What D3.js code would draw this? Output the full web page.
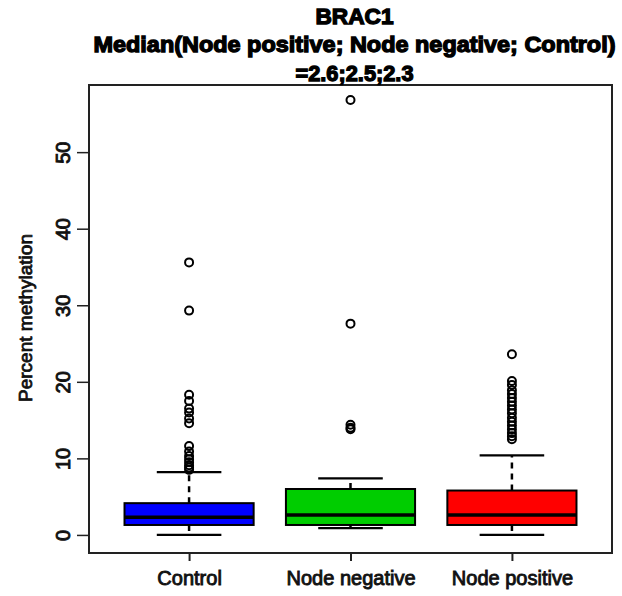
<!DOCTYPE html>
<html>
<head>
<meta charset="utf-8">
<script src="https://cdn.jsdelivr.net/npm/d3@7"></script>
<style>
  body { margin: 0; background: #fff; }
  svg { font-family: "Liberation Sans", Arial, sans-serif; }
</style>
</head>
<body>
<div class="graph"></div>
<script>
const width = 622;
const height = 596;

// chart data
const groups = ["Control", "Node negative", "Node positive"];
const lowerWhisker = [0.0, 0.9, 0.0];
const q1 = [1.3, 1.3, 1.3];
const medians = [2.3, 2.6, 2.6];
const q3 = [4.15, 6.0, 5.8];
const upperWhisker = [8.2, 7.4, 10.4];
const outliersControl = [35.6, 29.3, 18.3, 17.5, 16.5, 16.0, 15.2, 14.6, 11.6, 10.9, 10.3, 9.9, 9.5, 9.1, 8.8, 8.5];
const outliersNegative = [56.8, 27.6, 14.4, 14.0, 13.8];
const outliersPositive = [23.6, 20.1, 19.6, 18.9, 18.4, 17.9, 17.4, 16.9, 16.4, 15.9, 15.3, 14.8, 14.3, 13.8, 13.3, 12.9, 12.5];
const yTicks = [0, 10, 20, 30, 40, 50];
const titleLines = ["BRAC1", "Median(Node positive; Node negative; Control)", "=2.6;2.5;2.3"];
const yLabel = "Percent methylation";

const boxColors = ["#0000ff", "#00cd00", "#ff0000"];

const plot = { left: 89, right: 612, top: 85, bottom: 553 };

const boxes = groups.map((g, i) => ({
  name: g,
  pos: i + 1,
  lo: lowerWhisker[i],
  q1: q1[i],
  med: medians[i],
  q3: q3[i],
  hi: upperWhisker[i],
  out: [outliersControl, outliersNegative, outliersPositive][i],
  color: boxColors[i],
}));

const xScale = d3.scaleLinear().domain([0.38, 3.62]).range([plot.left, plot.right]);
const yScale = d3.scaleLinear().domain([-2.36, 58.77]).range([plot.bottom, plot.top]);

const svg = d3
  .select(".graph")
  .append("svg")
  .attr("width", width)
  .attr("height", height);

const halfBox = xScale(1.4) - xScale(1);
const halfCap = xScale(1.2) - xScale(1);

const g = svg
  .selectAll(".box")
  .data(boxes)
  .enter()
  .append("g")
  .attr("class", "box");

// dashed whiskers
g.append("line")
  .attr("x1", (d) => xScale(d.pos))
  .attr("x2", (d) => xScale(d.pos))
  .attr("y1", (d) => yScale(d.q3))
  .attr("y2", (d) => yScale(d.hi))
  .attr("stroke", "#000")
  .attr("stroke-width", 2.5)
  .attr("stroke-dasharray", "6,5");
g.append("line")
  .attr("x1", (d) => xScale(d.pos))
  .attr("x2", (d) => xScale(d.pos))
  .attr("y1", (d) => yScale(d.q1))
  .attr("y2", (d) => yScale(d.lo))
  .attr("stroke", "#000")
  .attr("stroke-width", 2.5)
  .attr("stroke-dasharray", "6,5");

// caps
["hi", "lo"].forEach((k) => {
  g.append("line")
    .attr("x1", (d) => xScale(d.pos) - halfCap)
    .attr("x2", (d) => xScale(d.pos) + halfCap)
    .attr("y1", (d) => yScale(d[k]))
    .attr("y2", (d) => yScale(d[k]))
    .attr("stroke", "#000")
    .attr("stroke-width", 2.2);
});

// boxes
g.append("rect")
  .attr("x", (d) => xScale(d.pos) - halfBox)
  .attr("width", halfBox * 2)
  .attr("y", (d) => yScale(d.q3))
  .attr("height", (d) => yScale(d.q1) - yScale(d.q3))
  .attr("fill", (d) => d.color)
  .attr("stroke", "#000")
  .attr("stroke-width", 2);

// median
g.append("line")
  .attr("x1", (d) => xScale(d.pos) - halfBox)
  .attr("x2", (d) => xScale(d.pos) + halfBox)
  .attr("y1", (d) => yScale(d.med))
  .attr("y2", (d) => yScale(d.med))
  .attr("stroke", "#000")
  .attr("stroke-width", 3.5);

// outliers
g.selectAll("circle")
  .data((d) => d.out.map((v) => ({ pos: d.pos, v: v })))
  .enter()
  .append("circle")
  .attr("cx", (d) => xScale(d.pos))
  .attr("cy", (d) => yScale(d.v))
  .attr("r", 4)
  .attr("fill", "none")
  .attr("stroke", "#000")
  .attr("stroke-width", 2);

// frame
svg
  .append("rect")
  .attr("x", plot.left)
  .attr("y", plot.top)
  .attr("width", plot.right - plot.left)
  .attr("height", plot.bottom - plot.top)
  .attr("fill", "none")
  .attr("stroke", "#222")
  .attr("stroke-width", 2);

// y axis
const yAxis = d3.axisLeft(yScale).tickValues(yTicks).tickSize(12).tickSizeOuter(0);
const yg = svg
  .append("g")
  .attr("transform", "translate(" + plot.left + ",0)")
  .call(yAxis);
yg.select(".domain")
  .attr("d", "M0," + yScale(0) + "V" + yScale(50))
  .attr("stroke", "#222")
  .attr("stroke-width", 2);
yg.selectAll(".tick line").attr("stroke", "#222").attr("stroke-width", 1.5);
yg.selectAll(".tick text")
  .attr("x", null)
  .attr("dy", null)
  .attr("text-anchor", "middle")
  .attr("transform", "translate(-19,0) rotate(-90)")
  .style("font-size", "20px")
  .attr("fill", "#111")
  .attr("stroke", "#111")
  .attr("stroke-width", 0.9);

// x axis
const xAxis = d3
  .axisBottom(xScale)
  .tickValues([1, 2, 3])
  .tickFormat((d) => groups[d - 1])
  .tickSize(8)
  .tickSizeOuter(0);
const xg = svg
  .append("g")
  .attr("transform", "translate(0," + plot.bottom + ")")
  .call(xAxis);
xg.select(".domain").remove();
xg.selectAll(".tick line").attr("stroke", "#222").attr("stroke-width", 2);
xg.selectAll(".tick text")
  .attr("y", 32)
  .attr("dy", null)
  .style("font-size", "20px")
  .attr("fill", "#111")
  .attr("stroke", "#111")
  .attr("stroke-width", 0.9);

// y label
svg
  .append("text")
  .attr("transform", "translate(32,318) rotate(-90)")
  .attr("text-anchor", "middle")
  .style("font-size", "19px")
  .attr("fill", "#111")
  .attr("stroke", "#111")
  .attr("stroke-width", 0.8)
  .text(yLabel);

// title
const titleX = (plot.left + plot.right) / 2 + 4;
const titleY = [24, 52, 81];
const titleW = [78, 522, 118];
svg
  .selectAll(".title")
  .data(titleLines)
  .enter()
  .append("text")
  .attr("class", "title")
  .attr("x", titleX)
  .attr("y", (d, i) => titleY[i])
  .attr("text-anchor", "middle")
  .attr("textLength", (d, i) => titleW[i])
  .attr("lengthAdjust", "spacingAndGlyphs")
  .style("font-size", "22px")
  .style("font-weight", "bold")
  .attr("fill", "#000")
  .attr("stroke", "#000")
  .attr("stroke-width", 1.3)
  .text((d) => d);
</script>
</body>
</html>
